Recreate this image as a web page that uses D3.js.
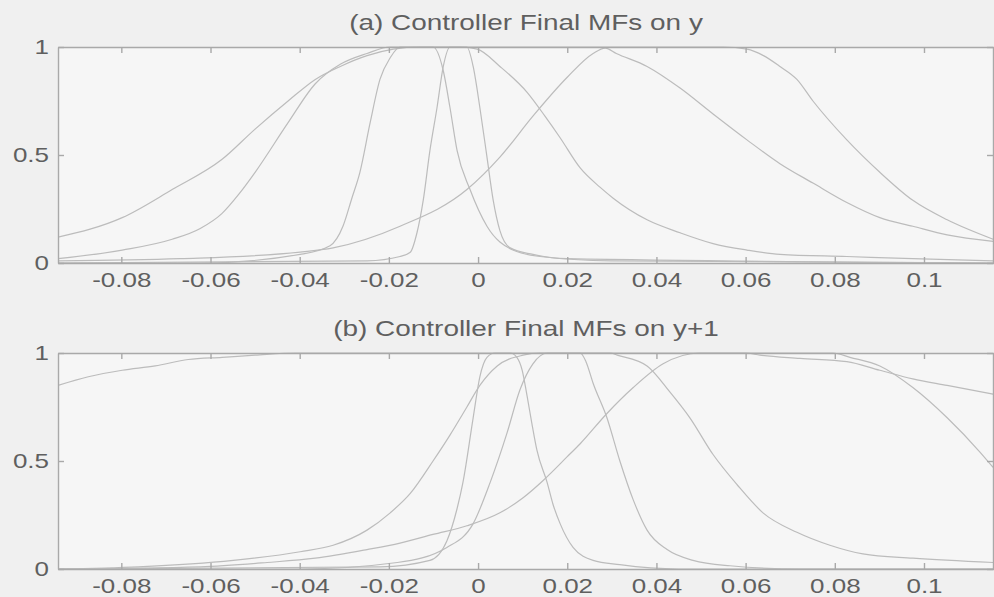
<!DOCTYPE html>
<html>
<head>
<meta charset="utf-8">
<script src="https://cdn.jsdelivr.net/npm/d3@7"></script>
<style>
  html, body { margin: 0; padding: 0; background: #f0f0f0; }
  svg { display: block; }
  text { font-family: "Liberation Sans", Arial, sans-serif; fill: #5f5f5f; }
</style>
</head>
<body>
<svg id="chart" width="994" height="597"></svg>
<script>
// Tick values and labels shared by both panels
var xTicks = [-0.08, -0.06, -0.04, -0.02, 0, 0.02, 0.04, 0.06, 0.08, 0.1];
var xTickLabels = ["-0.08", "-0.06", "-0.04", "-0.02", "0", "0.02", "0.04", "0.06", "0.08", "0.1"];
var yTicks = [0, 0.5, 1];
var yTickLabels = ["0", "0.5", "1"];
var titles = ["(a) Controller Final MFs on y", "(b) Controller Final MFs on y+1"];

// (a) MFs on y — [x, membership]
var mfA1 = [[-0.0942,0.12],[-0.0798,0.21],[-0.0686,0.34],[-0.0574,0.48],[-0.0500,0.62],[-0.0426,0.75],[-0.0365,0.85],[-0.0309,0.91],[-0.0249,0.96],[-0.0190,0.99],[-0.0130,1.0],[0.0550,1.0],[0.0603,0.99],[0.0640,0.96],[0.0677,0.91],[0.0715,0.85],[0.0751,0.75],[0.0827,0.57],[0.0901,0.42],[0.0975,0.29],[0.1052,0.20],[0.1155,0.11]];
var mfA2 = [[-0.0942,0.02],[-0.0798,0.06],[-0.0686,0.11],[-0.0623,0.16],[-0.0574,0.23],[-0.0536,0.32],[-0.0500,0.42],[-0.0426,0.65],[-0.0365,0.83],[-0.0309,0.92],[-0.0249,0.97],[-0.0197,1.0],[-0.0040,1.0],[-0.0002,0.99],[0.0049,0.91],[0.0110,0.79],[0.0150,0.68],[0.0184,0.58],[0.0229,0.44],[0.0274,0.35],[0.0303,0.30],[0.0379,0.20],[0.0453,0.14],[0.0527,0.09],[0.0603,0.06],[0.0677,0.04],[0.0827,0.03],[0.0975,0.02],[0.1155,0.01]];
var mfA3 = [[-0.0942,0.0],[-0.0623,0.0],[-0.0399,0.04],[-0.0332,0.08],[-0.0303,0.17],[-0.0283,0.30],[-0.0265,0.42],[-0.0242,0.65],[-0.0220,0.85],[-0.0197,0.95],[-0.0175,1.0],[-0.0101,1.0],[-0.0078,0.89],[-0.0063,0.72],[-0.0047,0.52],[-0.0018,0.34],[0.0020,0.17],[0.0078,0.06],[0.0139,0.03],[0.0300,0.01],[0.1155,0.0]];
var mfA4 = [[-0.0942,0.0],[-0.0249,0.01],[-0.0175,0.03],[-0.0152,0.05],[-0.0137,0.14],[-0.0123,0.29],[-0.0108,0.52],[-0.0092,0.72],[-0.0078,0.91],[-0.0063,1.0],[-0.0025,1.0],[-0.0011,0.91],[0.0004,0.72],[0.0020,0.49],[0.0034,0.29],[0.0049,0.15],[0.0072,0.07],[0.0123,0.04],[0.0200,0.02],[0.1155,0.0]];
var mfA5 = [[-0.0942,0.01],[-0.0668,0.02],[-0.0399,0.05],[-0.0325,0.07],[-0.0175,0.17],[-0.0025,0.34],[0.0049,0.49],[0.0123,0.68],[0.0200,0.86],[0.0258,0.97],[0.0285,0.995],[0.0310,0.97],[0.0379,0.91],[0.0453,0.81],[0.0527,0.69],[0.0603,0.57],[0.0677,0.46],[0.0751,0.37],[0.0827,0.28],[0.0901,0.21],[0.0975,0.17],[0.1052,0.13],[0.1155,0.10]];

// (b) MFs on y+1
var mfB1 = [[-0.0942,0.85],[-0.0874,0.89],[-0.0798,0.92],[-0.0724,0.94],[-0.0650,0.97],[-0.0574,0.98],[-0.0500,0.99],[-0.0410,1.0],[0.0600,1.0],[0.0632,0.99],[0.0722,0.975],[0.0827,0.96],[0.0901,0.92],[0.0975,0.88],[0.1052,0.85],[0.1155,0.81]];
var mfB2 = [[-0.0942,0.0],[-0.0762,0.01],[-0.0549,0.04],[-0.0399,0.08],[-0.0325,0.11],[-0.0249,0.18],[-0.0197,0.26],[-0.0152,0.35],[-0.0101,0.50],[-0.0063,0.62],[-0.0025,0.75],[0.0004,0.85],[0.0043,0.94],[0.0101,0.99],[0.0139,1.0],[0.0296,1.0],[0.0312,0.99],[0.0379,0.94],[0.0430,0.82],[0.0475,0.70],[0.0527,0.53],[0.0581,0.39],[0.0639,0.26],[0.0715,0.17],[0.0789,0.11],[0.0863,0.07],[0.0975,0.05],[0.1155,0.03]];
var mfB3 = [[-0.0942,0.0],[-0.0220,0.01],[-0.0108,0.04],[-0.0070,0.13],[-0.0047,0.28],[-0.0034,0.40],[-0.0011,0.70],[0.0004,0.89],[0.0020,0.98],[0.0038,1.0],[0.0072,1.0],[0.0087,0.98],[0.0099,0.92],[0.0110,0.80],[0.0121,0.67],[0.0132,0.55],[0.0155,0.40],[0.0168,0.30],[0.0184,0.21],[0.0213,0.10],[0.0258,0.04],[0.0318,0.02],[0.0450,0.0],[0.1155,0.0]];
var mfB4 = [[-0.0942,0.0],[-0.0399,0.0],[-0.0181,0.03],[-0.0070,0.10],[-0.0011,0.21],[0.0027,0.40],[0.0065,0.63],[0.0094,0.83],[0.0123,0.95],[0.0155,1.0],[0.0229,1.0],[0.0242,0.96],[0.0258,0.86],[0.0289,0.70],[0.0318,0.50],[0.0348,0.32],[0.0379,0.18],[0.0424,0.09],[0.0482,0.04],[0.0565,0.015],[0.0722,0.0],[0.1155,0.0]];
var mfB5 = [[-0.0942,0.0],[-0.0623,0.01],[-0.0473,0.03],[-0.0365,0.05],[-0.0249,0.09],[-0.0175,0.12],[-0.0101,0.16],[-0.0025,0.20],[0.0049,0.26],[0.0101,0.33],[0.0146,0.41],[0.0200,0.52],[0.0229,0.58],[0.0289,0.72],[0.0348,0.84],[0.0415,0.95],[0.0497,1.0],[0.0796,1.0],[0.0834,0.98],[0.0901,0.94],[0.0975,0.84],[0.1052,0.70],[0.1126,0.54],[0.1155,0.47]];

var panels = [
    { title: titles[0], curves: [mfA1, mfA2, mfA3, mfA4, mfA5], top: 47, bottom: 263, titleY: 30 },
    { title: titles[1], curves: [mfB1, mfB2, mfB3, mfB4, mfB5], top: 353, bottom: 569, titleY: 336 }
];

var left = 58, right = 994;
var textStretch = 1.3;

var x = d3.scaleLinear().domain([-0.0942, 0.1157]).range([left, right]);

var svg = d3.select("#chart");

panels.forEach(function(p, i) {
    var y = d3.scaleLinear().domain([0, 1]).range([p.bottom, p.top]);
    var g = svg.append("g");

    // plot area
    g.append("rect")
        .attr("x", left).attr("y", p.top)
        .attr("width", right - left).attr("height", p.bottom - p.top)
        .style("fill", "#f6f6f6");

    g.append("clipPath").attr("id", "clip" + i)
        .append("rect")
        .attr("x", left).attr("y", p.top - 1)
        .attr("width", right - left).attr("height", p.bottom - p.top + 2);

    var line = d3.line()
        .x(d => x(d[0]))
        .y(d => y(d[1]))
        .curve(d3.curveMonotoneX);

    g.append("g").attr("clip-path", "url(#clip" + i + ")")
        .selectAll("path")
        .data(p.curves)
        .enter().append("path")
        .attr("d", line)
        .style("fill", "none")
        .style("stroke", "#bcbcbc")
        .style("stroke-width", 1.2);

    // bottom axis with inward ticks
    var xAxis = g.append("g")
        .attr("transform", "translate(0," + p.bottom + ")")
        .call(d3.axisBottom(x).tickValues(xTicks).tickSizeInner(-6).tickSizeOuter(0)
            .tickFormat((d, k) => xTickLabels[k]));
    xAxis.selectAll("text")
        .attr("y", 10)
        .attr("transform", "scale(" + textStretch + ",1)")
        .style("font-size", "20px");

    // top axis, ticks only
    g.append("g")
        .attr("transform", "translate(0," + p.top + ")")
        .call(d3.axisTop(x).tickValues(xTicks).tickSizeInner(-6).tickSizeOuter(0).tickFormat(""));

    // left axis
    var yAxis = g.append("g")
        .attr("transform", "translate(" + left + ",0)")
        .call(d3.axisLeft(y).tickValues(yTicks).tickSizeInner(-6).tickSizeOuter(0)
            .tickFormat((d, k) => yTickLabels[k]));
    yAxis.selectAll("text")
        .attr("x", -9 / textStretch)
        .attr("transform", "scale(" + textStretch + ",1)")
        .style("font-size", "20px");

    // right axis, ticks only
    g.append("g")
        .attr("transform", "translate(" + (right - 1) + ",0)")
        .call(d3.axisRight(y).tickValues(yTicks).tickSizeInner(-6).tickSizeOuter(0).tickFormat(""));

    g.selectAll(".domain, .tick line")
        .style("stroke", "#a9a9a9")
        .style("stroke-width", 1.4);
    g.selectAll(".tick text").style("fill", "#5f5f5f");

    // title
    g.append("text")
        .attr("transform", "translate(" + ((left + right) / 2) + "," + p.titleY + ") scale(1.27,1)")
        .attr("text-anchor", "middle")
        .style("font-size", "22px")
        .text(p.title);
});
</script>
</body>
</html>
